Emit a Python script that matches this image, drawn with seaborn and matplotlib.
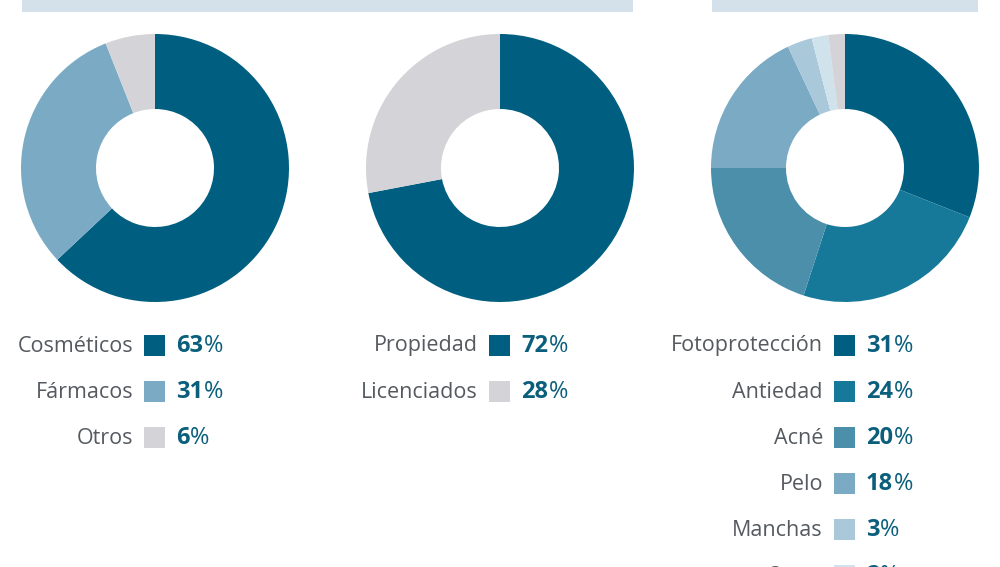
import matplotlib
matplotlib.use("Agg")
import matplotlib.pyplot as plt
import seaborn as sns
from matplotlib.patches import Rectangle

sns.set_theme(style="white")

cats1 = ["Cosméticos", "Fármacos", "Otros"]
vals1 = [63, 31, 6]
cols1 = ["#005f80", "#7aaac4", "#d3d3d8"]

cats2 = ["Propiedad", "Licenciados"]
vals2 = [72, 28]
cols2 = ["#005f80", "#d3d3d8"]

cats3 = ["Fotoprotección", "Antiedad", "Acné", "Pelo", "Manchas", "Otros", "Otros usos"]
vals3 = [31, 24, 20, 18, 3, 2, 2]
cols3 = ["#005f80", "#17799a", "#4b8fab", "#7aaac4", "#a9c8d9", "#d0e2ec", "#d3d3d8"]

W, H = 1000, 567
fig = plt.figure(figsize=(10, 5.67), dpi=100)
ax = fig.add_axes([0, 0, 1, 1])
ax.set_xlim(0, W); ax.set_ylim(0, H)
ax.axis("off")

ax.add_patch(Rectangle((22, H - 12), 611, 14, color="#d5e1ea", lw=0))
ax.add_patch(Rectangle((712, H - 12), 266, 14, color="#d5e1ea", lw=0))

FONT = "Open Sans"
def donut(cx, vals, cols):
    ax.pie(vals, colors=cols, startangle=90, counterclock=False,
           center=(cx, H - 168), radius=134, frame=True,
           wedgeprops=dict(width=75, linewidth=0))

def legend(xend, cats, vals, cols):
    for i, (c, v, col) in enumerate(zip(cats, vals, cols)):
        y = H - (346 + 46 * i)
        ax.text(xend, y, c, ha="right", va="center", fontsize=15.5,
                color="#555a60", family=FONT)
        ax.add_patch(Rectangle((xend + 11, y - 10), 21, 21, color=col, lw=0))
        t = ax.text(xend + 43, y, str(v), ha="left", va="center", fontsize=17,
                    fontweight="bold", color="#0b5f7c", family=FONT)
        ax.annotate("%", xy=(1, 0.5), xycoords=t, xytext=(0.5, 0),
                    textcoords="offset points", ha="left", va="center",
                    fontsize=17, color="#0b5f7c", family=FONT)

donut(155, vals1, cols1)
donut(500, vals2, cols2)
donut(845, vals3, cols3)
legend(133, cats1, vals1, cols1)
legend(478, cats2, vals2, cols2)
legend(823, cats3, vals3, cols3)

ax.set_xlim(0, W); ax.set_ylim(0, H)
ax.set_aspect("auto")
fig.savefig("out.png", dpi=100)
